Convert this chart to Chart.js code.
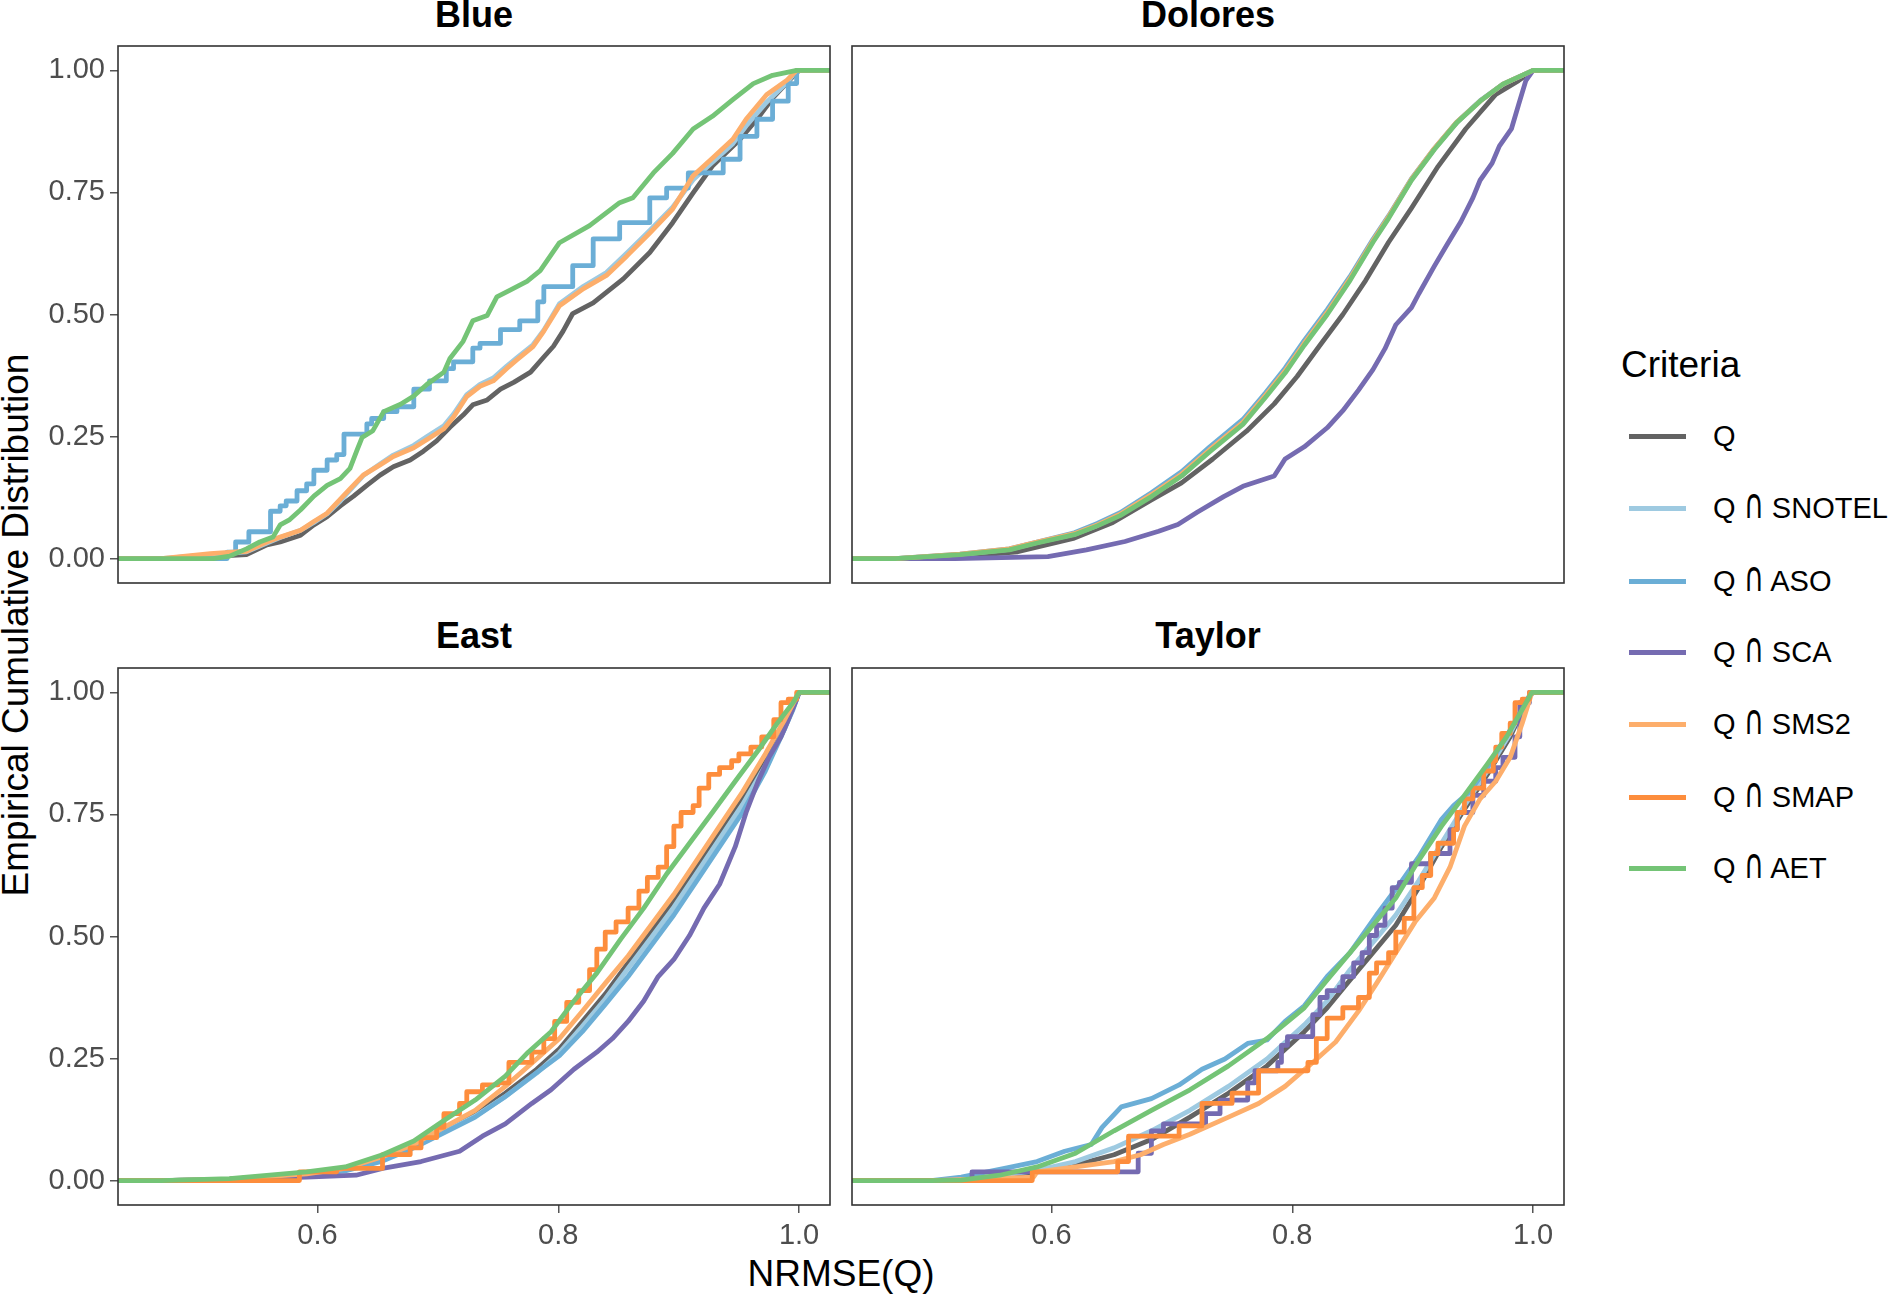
<!DOCTYPE html>
<html><head><meta charset="utf-8">
<script src="https://cdn.jsdelivr.net/npm/chart.js@4.4.1/dist/chart.umd.min.js"></script>
<style>
body{margin:0;background:#fff;width:1893px;height:1294px;overflow:hidden;position:relative;font-family:"Liberation Sans",Arial,sans-serif;}
canvas{position:absolute;}
.t{position:absolute;white-space:nowrap;line-height:1;}
.strip{font-weight:bold;font-size:36px;color:#000;transform:translate(-50%,-50%);}
.key{position:absolute;width:57px;height:5px;}
.lab{font-size:29px;color:#000;transform:translateY(-50%);}
.cap{font-family:"DejaVu Sans",sans-serif;font-size:0.95em;display:inline-block;transform:scale(1.0,1.5);transform-origin:50% 80%;}
</style></head><body>
<div class="t strip" style="left:474px;top:15px">Blue</div>
<div class="t strip" style="left:1208px;top:15px">Dolores</div>
<div class="t strip" style="left:474px;top:636px">East</div>
<div class="t strip" style="left:1208px;top:636px">Taylor</div>
<div class="t" style="left:841px;top:1273px;font-size:37px;transform:translate(-50%,-50%)">NRMSE(Q)</div>
<div class="t" style="left:15px;top:625px;font-size:37px;transform:translate(-50%,-50%) rotate(-90deg)">Empirical Cumulative Distribution</div>
<div class="t" style="left:1621px;top:364px;font-size:37px;transform:translateY(-50%)">Criteria</div>
<div id="legend"></div>
<canvas id="cBlue"></canvas><canvas id="cDolores"></canvas><canvas id="cEast"></canvas><canvas id="cTaylor"></canvas>
<script>
// ---------- categories / ticks ----------
const criteria = ['Q', 'Q ∩ SNOTEL', 'Q ∩ ASO', 'Q ∩ SCA', 'Q ∩ SMS2', 'Q ∩ SMAP', 'Q ∩ AET'];
const colors   = ['#636363', '#9ECAE1', '#6BAED6', '#756BB1', '#FDAE6B', '#FD8D3C', '#74C476'];
const xTicks = [0.6, 0.8, 1.0];
const yTicks = [0, 0.25, 0.5, 0.75, 1.0];

// ---------- Blue ----------
const blue_Q = [[0.48,0],[0.541,0.008],[0.558,0.028],[0.569,0.034],[0.586,0.048],[0.597,0.069],[0.608,0.086],[0.619,0.108],[0.630,0.128],[0.641,0.15],[0.652,0.171],[0.663,0.188],[0.677,0.202],[0.688,0.22],[0.699,0.241],[0.710,0.269],[0.721,0.294],[0.729,0.315],[0.741,0.325],[0.752,0.347],[0.763,0.361],[0.777,0.382],[0.788,0.413],[0.796,0.435],[0.804,0.466],[0.812,0.502],[0.829,0.524],[0.854,0.573],[0.876,0.627],[0.895,0.688],[0.912,0.749],[0.928,0.804],[0.951,0.859],[0.965,0.9],[0.978,0.943],[0.995,0.988],[1.0,1.0]];
const blue_SNOTEL = [[0.47,0],[0.511,0.008],[0.541,0.014],[0.558,0.032],[0.569,0.043],[0.586,0.058],[0.597,0.074],[0.608,0.092],[0.619,0.118],[0.627,0.14],[0.638,0.17],[0.652,0.194],[0.663,0.212],[0.680,0.232],[0.691,0.25],[0.705,0.272],[0.713,0.296],[0.724,0.336],[0.735,0.357],[0.746,0.37],[0.757,0.394],[0.765,0.41],[0.779,0.438],[0.788,0.468],[0.801,0.522],[0.821,0.558],[0.840,0.586],[0.857,0.626],[0.876,0.672],[0.895,0.72],[0.912,0.776],[0.928,0.812],[0.945,0.85],[0.956,0.886],[0.973,0.935],[0.990,0.975],[0.998,1.0]];
const blue_ASO = [[0.511,0],[0.525,0.013],[0.532,0.034],[0.543,0.055],[0.561,0.097],[0.569,0.108],[0.574,0.118],[0.583,0.139],[0.591,0.153],[0.597,0.181],[0.608,0.202],[0.616,0.213],[0.622,0.255],[0.641,0.276],[0.645,0.287],[0.655,0.301],[0.666,0.311],[0.680,0.347],[0.693,0.364],[0.707,0.389],[0.713,0.403],[0.729,0.431],[0.735,0.441],[0.752,0.469],[0.768,0.487],[0.783,0.526],[0.788,0.557],[0.812,0.6],[0.829,0.655],[0.851,0.688],[0.876,0.739],[0.890,0.759],[0.908,0.79],[0.937,0.818],[0.951,0.865],[0.965,0.9],[0.978,0.937],[0.991,0.973],[0.998,1.0]];
const blue_SMS2 = [[0.47,0],[0.511,0.01],[0.541,0.015],[0.558,0.034],[0.569,0.044],[0.586,0.058],[0.597,0.076],[0.608,0.093],[0.619,0.122],[0.627,0.143],[0.638,0.171],[0.652,0.192],[0.663,0.209],[0.680,0.227],[0.691,0.244],[0.705,0.266],[0.713,0.29],[0.724,0.332],[0.735,0.353],[0.746,0.364],[0.757,0.389],[0.765,0.406],[0.779,0.434],[0.788,0.466],[0.801,0.518],[0.821,0.553],[0.840,0.58],[0.857,0.62],[0.876,0.667],[0.895,0.716],[0.912,0.784],[0.928,0.82],[0.945,0.859],[0.956,0.9],[0.973,0.95],[0.990,0.98],[0.998,1.0]];
const blue_AET = [[0.5135,0],[0.527,0.005],[0.541,0.02],[0.552,0.034],[0.563,0.044],[0.569,0.069],[0.577,0.08],[0.586,0.1],[0.597,0.128],[0.608,0.15],[0.619,0.164],[0.627,0.185],[0.633,0.223],[0.637,0.248],[0.646,0.262],[0.655,0.301],[0.669,0.316],[0.680,0.333],[0.691,0.357],[0.705,0.382],[0.710,0.41],[0.721,0.445],[0.729,0.487],[0.741,0.498],[0.749,0.536],[0.760,0.55],[0.774,0.568],[0.785,0.59],[0.801,0.647],[0.826,0.682],[0.851,0.729],[0.862,0.739],[0.879,0.79],[0.895,0.83],[0.912,0.88],[0.928,0.906],[0.945,0.94],[0.962,0.973],[0.978,0.99],[0.998,1.0]];

// ---------- Dolores ----------
const dolores_Q = [[0.47,0],[0.524,0.004],[0.572,0.014],[0.619,0.042],[0.651,0.074],[0.683,0.12],[0.708,0.155],[0.734,0.204],[0.762,0.261],[0.785,0.317],[0.804,0.373],[0.823,0.437],[0.842,0.5],[0.861,0.57],[0.880,0.648],[0.899,0.718],[0.921,0.803],[0.944,0.88],[0.969,0.951],[0.988,0.979],[1.0,1.0]];
const dolores_SNOTEL = [[0.47,0],[0.524,0.008],[0.565,0.019],[0.588,0.033],[0.619,0.05],[0.638,0.068],[0.657,0.09],[0.683,0.13],[0.708,0.172],[0.731,0.221],[0.759,0.278],[0.778,0.334],[0.794,0.383],[0.810,0.44],[0.829,0.503],[0.848,0.572],[0.867,0.65],[0.880,0.699],[0.899,0.776],[0.918,0.839],[0.937,0.894],[0.956,0.937],[0.975,0.972],[1.0,1.0]];
const dolores_ASO = [[0.47,0],[0.524,0.009],[0.565,0.02],[0.588,0.034],[0.619,0.053],[0.638,0.072],[0.657,0.094],[0.683,0.135],[0.708,0.178],[0.731,0.228],[0.759,0.285],[0.778,0.34],[0.794,0.39],[0.810,0.447],[0.829,0.51],[0.848,0.578],[0.867,0.654],[0.880,0.702],[0.899,0.778],[0.918,0.84],[0.937,0.895],[0.956,0.938],[0.975,0.972],[1.0,1.0]];
const dolores_SCA = [[0.52,0],[0.597,0.004],[0.629,0.018],[0.661,0.035],[0.689,0.056],[0.705,0.07],[0.721,0.095],[0.743,0.127],[0.759,0.148],[0.785,0.169],[0.794,0.204],[0.810,0.229],[0.829,0.268],[0.842,0.303],[0.855,0.345],[0.867,0.387],[0.877,0.43],[0.886,0.479],[0.899,0.514],[0.905,0.542],[0.918,0.599],[0.928,0.641],[0.940,0.69],[0.950,0.739],[0.956,0.775],[0.966,0.81],[0.972,0.845],[0.982,0.88],[0.988,0.93],[0.994,0.979],[1.0,1.0]];
const dolores_SMS2 = [[0.47,0],[0.524,0.009],[0.565,0.02],[0.588,0.034],[0.619,0.051],[0.638,0.069],[0.657,0.091],[0.683,0.131],[0.708,0.173],[0.731,0.222],[0.759,0.279],[0.778,0.335],[0.794,0.384],[0.810,0.441],[0.829,0.504],[0.848,0.574],[0.867,0.651],[0.880,0.70],[0.899,0.777],[0.918,0.84],[0.937,0.895],[0.956,0.937],[0.975,0.972],[1.0,1.0]];
const dolores_AET = [[0.47,0],[0.524,0.008],[0.565,0.018],[0.588,0.032],[0.619,0.049],[0.638,0.067],[0.657,0.088],[0.683,0.127],[0.708,0.169],[0.731,0.218],[0.759,0.275],[0.778,0.331],[0.794,0.38],[0.810,0.437],[0.829,0.5],[0.848,0.57],[0.867,0.648],[0.880,0.697],[0.899,0.775],[0.918,0.838],[0.937,0.894],[0.956,0.937],[0.975,0.972],[1.0,1.0]];

// ---------- East ----------
const east_Q = [[0.47,0],[0.527,0.003],[0.591,0.013],[0.623,0.023],[0.654,0.045],[0.680,0.07],[0.705,0.105],[0.731,0.137],[0.756,0.179],[0.782,0.228],[0.801,0.27],[0.820,0.326],[0.839,0.382],[0.858,0.446],[0.877,0.509],[0.896,0.572],[0.915,0.642],[0.934,0.712],[0.953,0.782],[0.972,0.86],[0.988,0.93],[1.0,1.0]];
const east_SNOTEL = [[0.47,0],[0.527,0.003],[0.591,0.013],[0.623,0.022],[0.654,0.044],[0.680,0.068],[0.705,0.1],[0.731,0.132],[0.756,0.172],[0.782,0.22],[0.801,0.262],[0.820,0.316],[0.839,0.372],[0.858,0.435],[0.877,0.497],[0.896,0.56],[0.915,0.63],[0.934,0.70],[0.953,0.77],[0.972,0.85],[0.988,0.925],[1.0,1.0]];
const east_ASO = [[0.47,0],[0.527,0.003],[0.591,0.012],[0.623,0.02],[0.654,0.04],[0.680,0.067],[0.705,0.098],[0.731,0.13],[0.756,0.172],[0.782,0.221],[0.801,0.256],[0.820,0.305],[0.839,0.361],[0.858,0.418],[0.877,0.481],[0.896,0.544],[0.915,0.614],[0.934,0.684],[0.953,0.754],[0.972,0.839],[0.985,0.909],[0.995,0.965],[1.0,1.0]];
const east_SCA = [[0.50,0],[0.591,0.007],[0.632,0.011],[0.654,0.025],[0.686,0.039],[0.718,0.06],[0.737,0.091],[0.756,0.116],[0.778,0.158],[0.794,0.186],[0.813,0.228],[0.832,0.263],[0.845,0.291],[0.858,0.326],[0.871,0.368],[0.883,0.418],[0.896,0.453],[0.909,0.502],[0.921,0.558],[0.934,0.607],[0.947,0.684],[0.956,0.754],[0.966,0.818],[0.975,0.867],[0.985,0.909],[0.991,0.944],[0.998,0.986],[1.0,1.0]];
const east_SMS2 = [[0.47,0],[0.527,0.003],[0.591,0.014],[0.623,0.025],[0.654,0.049],[0.680,0.074],[0.705,0.109],[0.731,0.144],[0.756,0.193],[0.782,0.249],[0.801,0.291],[0.820,0.347],[0.839,0.404],[0.858,0.46],[0.877,0.523],[0.896,0.586],[0.915,0.656],[0.934,0.726],[0.953,0.796],[0.972,0.874],[0.988,0.944],[1.0,1.0]];
const east_SMAP = [[0.50,0],[0.585,0.018],[0.616,0.025],[0.654,0.053],[0.677,0.067],[0.686,0.088],[0.699,0.109],[0.705,0.137],[0.718,0.158],[0.724,0.182],[0.737,0.196],[0.750,0.2],[0.759,0.242],[0.778,0.263],[0.788,0.291],[0.797,0.326],[0.807,0.365],[0.817,0.389],[0.826,0.432],[0.832,0.474],[0.839,0.509],[0.848,0.53],[0.858,0.558],[0.867,0.593],[0.874,0.621],[0.883,0.642],[0.890,0.684],[0.896,0.726],[0.902,0.754],[0.912,0.768],[0.917,0.804],[0.925,0.832],[0.934,0.846],[0.944,0.86],[0.950,0.874],[0.960,0.888],[0.969,0.909],[0.979,0.944],[0.985,0.979],[0.991,0.986],[0.998,1.0]];
const east_AET = [[0.47,0],[0.527,0.004],[0.591,0.018],[0.623,0.028],[0.654,0.053],[0.680,0.081],[0.705,0.123],[0.731,0.165],[0.756,0.214],[0.775,0.263],[0.794,0.305],[0.813,0.368],[0.832,0.425],[0.852,0.495],[0.871,0.558],[0.890,0.628],[0.909,0.691],[0.928,0.754],[0.947,0.818],[0.966,0.881],[0.982,0.937],[0.995,0.979],[1.0,1.0]];

// ---------- Taylor ----------
const taylor_Q = [[0.50,0],[0.525,0.002],[0.557,0.008],[0.588,0.018],[0.620,0.032],[0.652,0.053],[0.683,0.084],[0.715,0.13],[0.747,0.179],[0.779,0.235],[0.810,0.305],[0.829,0.354],[0.848,0.411],[0.867,0.467],[0.886,0.523],[0.905,0.60],[0.924,0.684],[0.943,0.761],[0.962,0.832],[0.981,0.909],[0.997,0.993],[1.0,1.0]];
const taylor_SNOTEL = [[0.50,0],[0.525,0.002],[0.557,0.01],[0.588,0.021],[0.620,0.039],[0.652,0.067],[0.683,0.102],[0.715,0.144],[0.747,0.193],[0.779,0.249],[0.810,0.319],[0.829,0.368],[0.848,0.432],[0.867,0.488],[0.886,0.544],[0.905,0.614],[0.924,0.691],[0.943,0.768],[0.962,0.839],[0.981,0.916],[0.997,0.993],[1.0,1.0]];
const taylor_ASO = [[0.50,0],[0.525,0.007],[0.563,0.026],[0.588,0.039],[0.611,0.06],[0.633,0.074],[0.642,0.109],[0.658,0.151],[0.683,0.168],[0.706,0.196],[0.725,0.228],[0.744,0.249],[0.763,0.281],[0.779,0.288],[0.794,0.326],[0.810,0.358],[0.829,0.418],[0.848,0.467],[0.870,0.544],[0.889,0.607],[0.905,0.663],[0.924,0.74],[0.934,0.768],[0.947,0.796],[0.962,0.846],[0.981,0.923],[0.997,0.993],[1.0,1.0]];
const taylor_SCA = [[0.534,0.018],[0.672,0.056],[0.683,0.102],[0.693,0.116],[0.728,0.137],[0.740,0.165],[0.763,0.2],[0.769,0.225],[0.788,0.242],[0.791,0.277],[0.796,0.295],[0.817,0.34],[0.823,0.375],[0.829,0.389],[0.839,0.396],[0.842,0.418],[0.851,0.446],[0.858,0.467],[0.864,0.502],[0.870,0.523],[0.877,0.558],[0.883,0.60],[0.889,0.611],[0.899,0.649],[0.915,0.67],[0.931,0.719],[0.937,0.754],[0.950,0.789],[0.959,0.818],[0.969,0.846],[0.975,0.867],[0.985,0.909],[0.989,0.979],[0.997,1.0]];
const taylor_SMS2 = [[0.50,0],[0.585,0.007],[0.588,0.018],[0.620,0.028],[0.652,0.039],[0.674,0.053],[0.693,0.074],[0.715,0.095],[0.747,0.13],[0.772,0.158],[0.794,0.193],[0.817,0.242],[0.836,0.284],[0.855,0.347],[0.870,0.404],[0.886,0.467],[0.902,0.53],[0.918,0.579],[0.931,0.642],[0.943,0.726],[0.956,0.782],[0.969,0.818],[0.981,0.867],[0.991,0.937],[0.999,1.0]];
const taylor_SMAP = [[0.584,0.018],[0.655,0.039],[0.664,0.091],[0.706,0.112],[0.725,0.158],[0.750,0.179],[0.772,0.225],[0.813,0.242],[0.820,0.291],[0.829,0.333],[0.842,0.354],[0.855,0.375],[0.864,0.425],[0.870,0.446],[0.880,0.467],[0.886,0.509],[0.893,0.537],[0.901,0.60],[0.908,0.625],[0.915,0.67],[0.921,0.691],[0.934,0.719],[0.937,0.754],[0.943,0.782],[0.950,0.804],[0.959,0.839],[0.967,0.86],[0.969,0.888],[0.974,0.916],[0.981,0.937],[0.985,0.979],[0.991,0.986],[0.997,1.0]];
const taylor_AET = [[0.50,0],[0.525,0.001],[0.557,0.011],[0.588,0.028],[0.620,0.056],[0.652,0.102],[0.683,0.144],[0.715,0.186],[0.747,0.235],[0.779,0.291],[0.810,0.354],[0.829,0.411],[0.848,0.467],[0.867,0.523],[0.886,0.579],[0.905,0.656],[0.924,0.726],[0.943,0.789],[0.962,0.853],[0.978,0.909],[0.991,0.965],[0.999,1.0]];

// ---------- layout ----------
const FONT = '"Liberation Sans", Arial, sans-serif';
Chart.defaults.font.family = FONT;
const X_MIN = 0.4343, X_MAX = 1.0257, Y_MIN = -0.05, Y_MAX = 1.05;
const PW = 712, PH = 537;

// legend (HTML)
const legendY = [436, 508, 581, 652, 724, 797, 868];
const lg = document.getElementById('legend');
criteria.forEach((c, i) => {
  const k = document.createElement('div'); k.className = 'key';
  k.style.left = '1629px'; k.style.top = (legendY[i] - 2.5) + 'px'; k.style.background = colors[i];
  lg.appendChild(k);
  const t = document.createElement('div'); t.className = 't lab';
  t.style.left = '1713px'; t.style.top = legendY[i] + 'px';
  c.split('∩').forEach((part, j) => {
    if (j > 0) { const s = document.createElement('span'); s.className = 'cap'; s.textContent = '∩'; t.appendChild(s); }
    t.appendChild(document.createTextNode(part));
  });
  lg.appendChild(t);
});

const boxPlugin = {
  id: 'box',
  afterDraw(chart) {
    const a = chart.chartArea, c = chart.ctx;
    c.save(); c.strokeStyle = '#333333'; c.lineWidth = 1.6;
    c.strokeRect(a.left, a.top, a.right - a.left, a.bottom - a.top);
    c.restore();
  }
};

function toPts(arr) {
  const p = [{x: X_MIN, y: 0}];
  arr.forEach(([x, y]) => p.push({x, y}));
  p.push({x: X_MAX, y: 1});
  return p;
}

function makePanel(id, panelLeft, panelTop, showX, showY, series) {
  const L = showY ? 118 : 3, B = showX ? 62 : 3, T = 3, R = 3;
  const cv = document.getElementById(id);
  const w = L + PW + R, h = T + PH + B;
  cv.width = w; cv.height = h;
  cv.style.left = (panelLeft - L) + 'px'; cv.style.top = (panelTop - T) + 'px';
  cv.style.width = w + 'px'; cv.style.height = h + 'px';
  const datasets = series.map(s => ({
    label: criteria[s.k], data: toPts(s.d), borderColor: colors[s.k], backgroundColor: colors[s.k],
    borderWidth: 4.8, pointRadius: 0, fill: false, tension: 0, stepped: s.step ? true : false,
    borderJoinStyle: 'round', borderCapStyle: 'butt', order: 7 - s.k
  }));
  const tickFont = {family: FONT, size: 29};
  const noPad = s => { s.paddingTop = 0; s.paddingBottom = 0; s.paddingLeft = 0; s.paddingRight = 0; };
  new Chart(cv.getContext('2d'), {
    type: 'line',
    data: {datasets},
    plugins: [boxPlugin],
    options: {
      responsive: false, animation: false, devicePixelRatio: 1,
      layout: {padding: {left: showY ? 0 : 3, right: R, top: T, bottom: showX ? 0 : 3}},
      plugins: {legend: {display: false}, tooltip: {enabled: false}},
      scales: {
        x: {
          type: 'linear', min: X_MIN, max: X_MAX, display: showX,
          afterBuildTicks: s => { s.ticks = xTicks.map(v => ({value: v})); },
          afterFit: s => { if (showX) s.height = 62; noPad(s); },
          grid: {display: true, drawOnChartArea: false, drawTicks: true, tickLength: 8, color: '#555555', lineWidth: 1.5},
          border: {display: false},
          ticks: {font: tickFont, color: '#4D4D4D', padding: 6, maxRotation: 0, autoSkip: false, callback: v => v.toFixed(1)}
        },
        y: {
          type: 'linear', min: Y_MIN, max: Y_MAX, display: showY,
          afterBuildTicks: s => { s.ticks = yTicks.map(v => ({value: v})); },
          afterFit: s => { if (showY) s.width = 118; noPad(s); },
          grid: {display: true, drawOnChartArea: false, drawTicks: true, tickLength: 8, color: '#555555', lineWidth: 1.5},
          border: {display: false},
          ticks: {font: tickFont, color: '#4D4D4D', padding: 5, autoSkip: false, callback: v => v.toFixed(2)}
        }
      }
    }
  });
}

makePanel('cBlue', 118, 46, false, true, [
  {k: 0, d: blue_Q}, {k: 1, d: blue_SNOTEL}, {k: 2, d: blue_ASO, step: true}, {k: 4, d: blue_SMS2}, {k: 6, d: blue_AET}
]);
makePanel('cDolores', 852, 46, false, false, [
  {k: 0, d: dolores_Q}, {k: 1, d: dolores_SNOTEL}, {k: 2, d: dolores_ASO}, {k: 3, d: dolores_SCA}, {k: 4, d: dolores_SMS2}, {k: 6, d: dolores_AET}
]);
makePanel('cEast', 118, 668, true, true, [
  {k: 0, d: east_Q}, {k: 1, d: east_SNOTEL}, {k: 2, d: east_ASO}, {k: 3, d: east_SCA}, {k: 4, d: east_SMS2}, {k: 5, d: east_SMAP, step: true}, {k: 6, d: east_AET}
]);
makePanel('cTaylor', 852, 668, true, false, [
  {k: 0, d: taylor_Q}, {k: 1, d: taylor_SNOTEL}, {k: 2, d: taylor_ASO}, {k: 3, d: taylor_SCA, step: true}, {k: 4, d: taylor_SMS2}, {k: 5, d: taylor_SMAP, step: true}, {k: 6, d: taylor_AET}
]);
</script>
</body></html>
